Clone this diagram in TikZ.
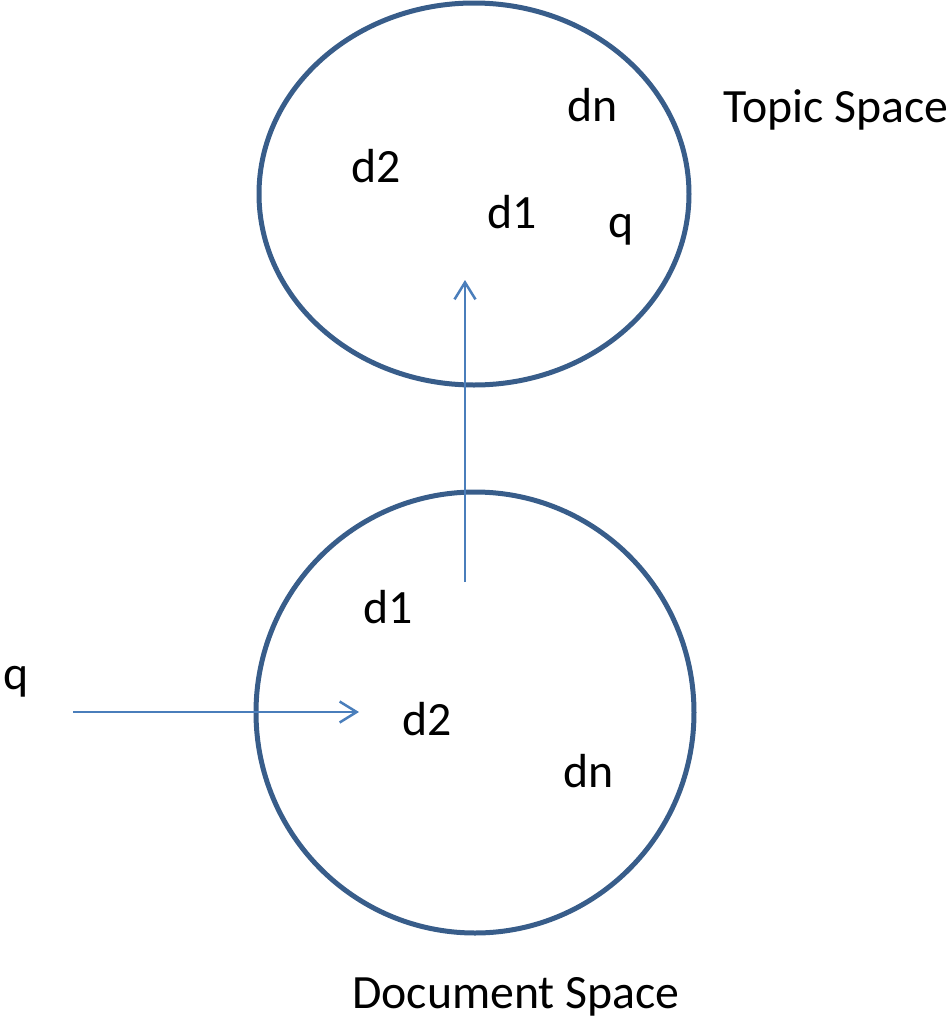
\documentclass[tikz,border=0pt]{standalone}
\usepackage{fontspec}
\setmainfont{Carlito}
\usetikzlibrary{arrows.meta}
\definecolor{ringblue}{HTML}{385D8A}
\definecolor{arrowblue}{HTML}{4A7EBB}
\tikzset{
  space/.style={draw=ringblue, line width=5pt},
  lbl/.style={anchor=base west, inner sep=0pt, font=\fontsize{47.8pt}{52pt}\selectfont, text=black},
  flow/.style={draw=arrowblue, line width=2.5pt, -{Straight Barb[length=17pt,width=21pt,line width=2.5pt]}}
}
\begin{document}
\begin{tikzpicture}[x=1pt,y=-1pt]
\useasboundingbox (0,0) rectangle (949,1021);
% ellipses
\draw[space] (474,194) ellipse [x radius=215, y radius=191];
\draw[space] (475,712.5) ellipse [x radius=219, y radius=220.5];
% topic space labels
\node[lbl] (tdn) at (567,121) {dn};
\node[lbl] (td2) at (351,182) {d2};
\node[lbl] (td1) at (487,228) {d1};
\node[lbl] (tq) at (608,237) {q};
\node[lbl] (ttitle) at (723,122) {Topic Space};
% document space labels
\node[lbl] (dd1) at (363,623) {d1};
\node[lbl] (dd2) at (402,735) {d2};
\node[lbl] (ddn) at (563,787) {dn};
\node[lbl] (qin) at (3,689) {q};
\node[lbl] (dtitle) at (352,1008) {Document Space};
% arrows
\coordinate (vstart) at (465,582);
\coordinate (vend) at (465,280);
\coordinate (hstart) at (73,712);
\coordinate (hend) at (359,712);
\draw[flow] (vstart) -- (vend);
\draw[flow] (hstart) -- (hend);
\end{tikzpicture}
\end{document}
